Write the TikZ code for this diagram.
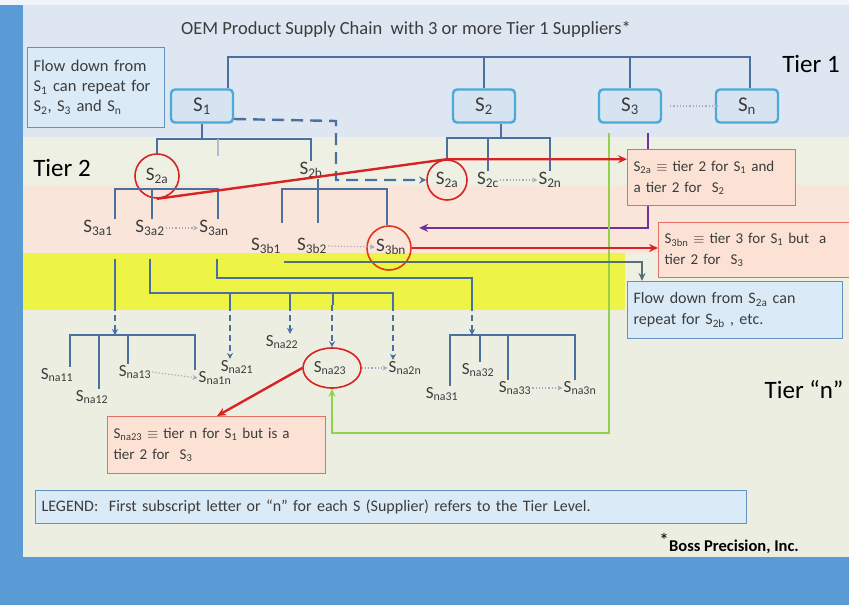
\documentclass[tikz,border=0pt]{standalone}
\usepackage{fontspec}
\setmainfont{Carlito}
\usetikzlibrary{arrows.meta,shapes.geometric}
\definecolor{frameblue}{RGB}{91,155,213}
\definecolor{bandtop}{RGB}{221,230,241}
\definecolor{bandcream}{RGB}{238,240,228}
\definecolor{bandpink}{RGB}{250,229,218}
\definecolor{bandyellow}{RGB}{238,244,70}
\definecolor{bandgray}{RGB}{236,238,226}
\definecolor{treeblue}{RGB}{74,112,160}
\definecolor{boxcyan}{RGB}{75,170,215}
\definecolor{boxfill}{RGB}{214,228,242}
\definecolor{labgray}{RGB}{60,60,60}
\definecolor{ringred}{RGB}{215,35,35}
\definecolor{dotgray}{RGB}{165,170,190}
\definecolor{notered}{RGB}{228,110,100}
\definecolor{notefill}{RGB}{251,226,213}
\definecolor{noteblue}{RGB}{100,145,195}
\definecolor{noteblfill}{RGB}{218,234,246}
\definecolor{flowgray}{RGB}{85,112,118}
\definecolor{flowtip}{RGB}{0,112,192}
\definecolor{greenline}{RGB}{146,208,80}
\definecolor{purpline}{RGB}{112,48,160}
\newcommand{\Sx}[1]{S\textsubscript{#1}}
\begin{document}
\begin{tikzpicture}[x=1pt,y=-1pt,
  tline/.style={draw=treeblue,line width=2.4pt},
  nline/.style={draw=treeblue,line width=2pt},
  stubline/.style={draw=treeblue!45,line width=1.6pt},
  dashline/.style={draw=treeblue,line width=2.4pt,dash pattern=on 12pt off 7pt,-{Stealth[length=7pt,width=7pt]}},
  dropdash/.style={draw=treeblue,line width=1.8pt,dash pattern=on 6pt off 4pt,-{Stealth[length=6pt,width=6pt]}},
  tierbox/.style={draw=boxcyan,line width=2.4pt,rounded corners=4pt,fill=boxfill,minimum width=62pt,minimum height=33pt,font=\fontsize{21}{22}\selectfont,text=labgray},
  lab/.style={inner sep=1pt,font=\fontsize{19}{20}\selectfont,text=labgray},
  labn/.style={inner sep=1pt,font=\fontsize{17}{18}\selectfont,text=labgray},
  tierlab/.style={font=\fontsize{25}{26}\selectfont,text=black},
  ring/.style={circle,draw=ringred,line width=1.6pt,minimum size=#1},
  dotarr/.style={draw=dotgray,line width=1.2pt,dotted,-{Stealth[open,length=5pt,width=5pt]}},
  notebox/.style={draw=notered,line width=1.2pt,fill=notefill,align=left,inner sep=6pt,anchor=north west,font=\fontsize{15}{21}\selectfont,text=labgray},
  bluebox/.style={draw=noteblue,line width=1.2pt,fill=noteblfill,align=left,inner sep=6pt,anchor=north west,text=labgray},
  redarr/.style={draw=ringred,line width=2.4pt,-{Stealth[length=9pt,width=8pt]}},
  greenarr/.style={draw=greenline,line width=2pt,-{Stealth[length=8pt,width=7pt]}},
  purparr/.style={draw=purpline,line width=2.4pt,-{Stealth[length=9pt,width=8pt]}},
  flowline/.style={draw=flowgray,line width=2pt,-{Stealth[length=8pt,width=7pt,fill=flowtip]}}
]
\useasboundingbox (0,0) rectangle (849,605);
\fill[frameblue] (0,0) rectangle (849,605);
\fill[white!90!frameblue] (0,0) rectangle (849,5);
\fill[bandtop] (23,5) rectangle (849,137);
\fill[bandcream] (23,137) rectangle (849,185);
\fill[bandpink] (23,185) rectangle (849,253);
\fill[bandcream] (23,253) rectangle (849,310);
\fill[bandyellow] (23,253) rectangle (625,310);
\fill[bandgray] (23,310) rectangle (849,557);

\node[font=\fontsize{18.5}{20}\selectfont,text=labgray] (title) at (406,29) {OEM Product Supply Chain\ \ with 3 or more Tier 1 Suppliers*};
\node[tierlab] (tier1) at (811,64) {Tier 1};
\node[tierlab] (tier2) at (62,168) {Tier 2};
\node[tierlab,anchor=east] (tiern) at (847,390) {Tier “n”};

\node[bluebox,minimum height=80pt,text width=125pt,font=\fontsize{16.5}{20}\selectfont] (flowa) at (27,47) {Flow down from\\\Sx{1} can repeat for\\\Sx{2}, \Sx{3} and \Sx{n}};

\node[tierbox] (s1) at (202,106) {\Sx{1}};
\node[tierbox] (s2) at (484,106) {\Sx{2}};
\node[tierbox] (s3) at (630,106) {\Sx{3}};
\node[tierbox] (sn) at (747,106) {\Sx{n}};

\node[lab] (s2aL) at (157,176) {\Sx{2a}};
\node[lab] (s2b) at (311,170) {\Sx{2b}};
\node[lab] (s2aR) at (447,180) {\Sx{2a}};
\node[lab] (s2c) at (488,180) {\Sx{2c}};
\node[lab] (s2nn) at (550,180) {\Sx{2n}};
\node[ring=44pt] (c2aL) at (157,176) {};
\node[ring=40pt] (c2aR) at (447,180) {};

\node[lab] (s3a1) at (98,228) {\Sx{3a1}};
\node[lab] (s3a2) at (150,228) {\Sx{3a2}};
\node[lab] (s3an) at (214,228) {\Sx{3an}};
\node[lab] (s3b1) at (266,246) {\Sx{3b1}};
\node[lab] (s3b2) at (312,246) {\Sx{3b2}};
\node[lab] (s3bn) at (391,247) {\Sx{3bn}};
\node[ring=44pt,draw=ringred!80!orange] (c3bn) at (389,248) {};

\node[labn] (na11) at (57,375) {\Sx{na11}};
\node[labn] (na12) at (92,397) {\Sx{na12}};
\node[labn] (na13) at (135,372) {\Sx{na13}};
\node[labn] (na1n) at (215,378) {\Sx{na1n}};
\node[labn] (na21) at (237,367) {\Sx{na21}};
\node[labn] (na22) at (282,342) {\Sx{na22}};
\node[labn] (na23) at (330,368) {\Sx{na23}};
\node[labn] (na2n) at (405,368) {\Sx{na2n}};
\node[labn] (na31) at (442,394) {\Sx{na31}};
\node[labn] (na32) at (478,370) {\Sx{na32}};
\node[labn] (na33) at (515,388) {\Sx{na33}};
\node[labn] (na3n) at (580,388) {\Sx{na3n}};
\node[ellipse,draw=ringred,line width=1.6pt,minimum width=58pt,minimum height=40pt] (c23) at (332,368) {};

\coordinate (top1) at (228,57);
\coordinate (topn) at (750,57);
\draw[tline] (s1.north -| top1) -- (top1) -- (topn) -- (sn.north -| topn);
\draw[tline] (s2.north) -- (s2.north |- top1);
\draw[tline] (s3.north) -- (s3.north |- top1);

\coordinate (j1) at (202,139);
\draw[tline] (s1.south) -- (j1);
\draw[tline] (c2aL.north) |- (j1) -| (s2b.north);
\coordinate (stub) at (218,139);
\draw[stubline] (stub) -- ++(0,17);
\coordinate (dk) at (336,121);
\draw[dashline] ([yshift=-13pt]s1.east) -- (dk) -- (dk |- c2aR.west) -- (c2aR.west);

\coordinate (j2) at (501,138);
\draw[tline] (s2.south -| j2) -- (j2);
\draw[tline] (c2aR.north) |- (j2) -| (s2nn.north);
\draw[tline] (s2c.north) -- (s2c.north |- j2);

\coordinate (k1) at (218,189);
\coordinate (k1b) at (152,189);
\draw[tline] ([xshift=17pt]s3a1.north) |- (k1) -- ([xshift=4pt]s3an.north);
\draw[tline] (k1b) -- (k1b |- s3a2.north);
\coordinate (e3b1) at (282,223);
\coordinate (e3b2) at (318,223);
\coordinate (k2) at (387,189);
\draw[tline] (e3b1) |- (k2) -- (k2 |- c3bn.north);
\draw[tline] (e3b2 |- s2b.south) -- (e3b2);

\coordinate (u1) at (115,259);
\coordinate (u1e) at (115,305);
\coordinate (br1r) at (195,335);
\coordinate (b1m) at (99,335);
\coordinate (b1n) at (128,335);
\draw[nline] (u1) -- (u1e);
\draw[dropdash] (u1e) -- (u1e |- br1r);
\draw[nline] ([xshift=13pt]na11.north) |- (br1r) -- ([xshift=-20pt]na1n.north);
\draw[nline] (b1m) -- ([xshift=7pt]na12.north);
\draw[nline] (b1n) -- ([xshift=-7pt]na13.north);

\coordinate (u2) at (150,259);
\coordinate (h2) at (393,293);
\draw[nline] (u2) |- (h2) -- ++(0,12);
\draw[nline] (230,293) -- (230,305);
\draw[nline] (290,293) -- (290,305);
\draw[nline] (333,293) -- (333,305);
\draw[dropdash] (230,305) -- ([xshift=-7pt]na21.north);
\draw[dropdash] (290,305) -- ([xshift=8pt]na22.north);
\draw[dropdash] (332,305) -- (c23.north);
\draw[dropdash] (393,305) -- ([xshift=-12pt]na2n.north);

\coordinate (u3) at (217,259);
\coordinate (h3) at (472,278);
\coordinate (br3r) at (575,335);
\coordinate (b3m) at (480,335);
\coordinate (b3n) at (508,335);
\draw[nline] (u3) |- (h3) -- ++(0,27);
\draw[dropdash] (472,305) -- (472,335);
\draw[nline] ([xshift=8pt]na31.north) |- (br3r) -- ([xshift=-5pt]na3n.north);
\draw[nline] (b3m) -- ([xshift=2pt]na32.north);
\draw[nline] (b3n) -- ([xshift=-7pt]na33.north);

\draw[dotarr] ([xshift=8pt]s3.east) -- ([xshift=4pt]sn.west);
\draw[dotarr] (s2c.east) -- (s2nn.west);
\draw[dotarr] (s3a2.east) -- (s3an.west);
\draw[dotarr] (s3b2.east) -- (s3bn.west);
\draw[dotarr] (na13.east) -- (na1n.west);
\draw[dotarr] (c23.east) -- (na2n.west);
\draw[dotarr] (na33.east) -- (na3n.west);

\coordinate (p1) at (648,133);
\draw[purparr] (p1) |- ([xshift=14pt,yshift=4pt]c3bn.north east);
\coordinate (g1) at (609,133);
\coordinate (g2) at (609,433);
\draw[greenarr] (g1) -- (g2) -| (c23.south);

\node[notebox,minimum height=56pt,text width=156pt] (noteA) at (627,149) {\Sx{2a} $\equiv$ tier 2 for \Sx{1} and\\a tier 2 for\ \ \Sx{2}};
\node[notebox,minimum height=55pt,text width=188pt] (noteB) at (658,222) {\Sx{3bn} $\equiv$ tier 3 for \Sx{1} but\ \ a\\tier 2 for\ \ \Sx{3}};
\node[bluebox,minimum height=57pt,text width=203pt,font=\fontsize{16}{21}\selectfont] (flowb) at (627,281) {Flow down from \Sx{2a} can\\repeat for \Sx{2b} , etc.};
\node[notebox,minimum height=57pt,text width=206pt] (noteC) at (107,416) {\Sx{na23} $\equiv$ tier n for \Sx{1} but is a\\tier 2 for\ \ \Sx{3}};

\coordinate (fl1) at (284,262);
\draw[flowline] (fl1) -| ([xshift=15pt]flowb.north west);
\draw[redarr] (c2aL.south) -- (c2aR.north) -- (c2aR.north -| noteA.west);
\draw[redarr] (c3bn.east) -- (c3bn.east -| noteB.west);
\draw[redarr] (c23.west) -- ([xshift=110pt]noteC.north west);

\node[bluebox,minimum height=33pt,text width=699pt,font=\fontsize{16}{18}\selectfont] (legend) at (35,490) {LEGEND:\ \ First subscript letter or “n” for each S (Supplier) refers to the Tier Level.};
\node[font=\bfseries\fontsize{16.5}{18}\selectfont,text=black] (boss) at (729,544) {\raisebox{4pt}{\mdseries\fontsize{20}{20}\selectfont *}Boss Precision, Inc.};
\end{tikzpicture}
\end{document}
